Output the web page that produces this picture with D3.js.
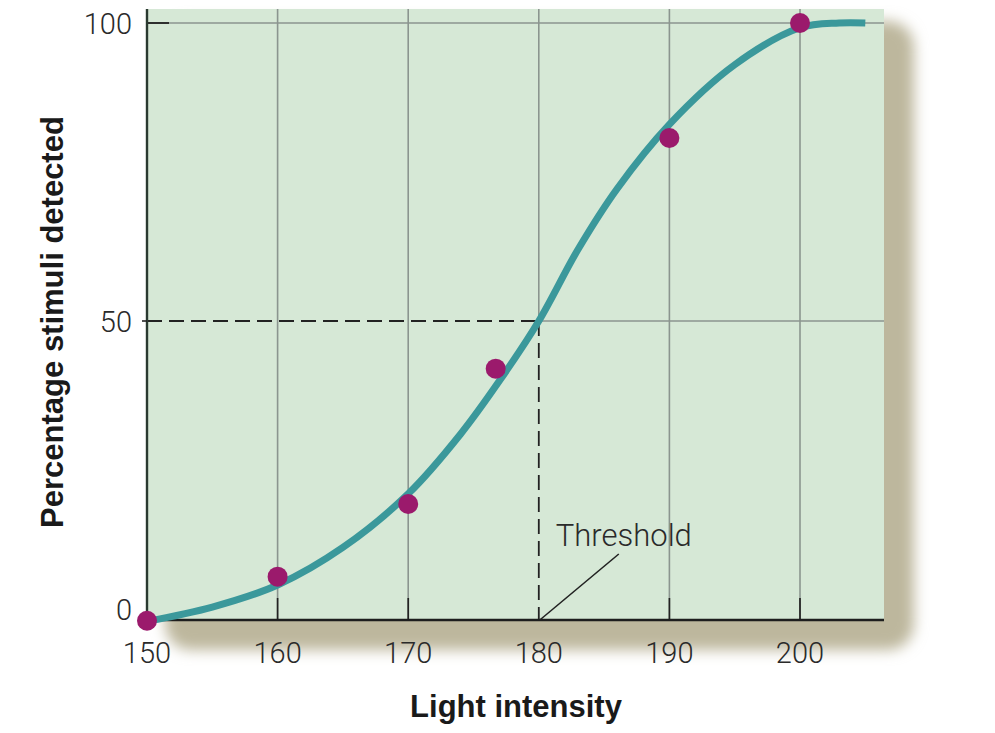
<!DOCTYPE html>
<html>
<head>
<meta charset="utf-8">
<script src="https://cdn.jsdelivr.net/npm/d3@7"></script>
<style>
  html, body { margin: 0; padding: 0; background: #ffffff; }
  svg { display: block; }
</style>
</head>
<body>
<script>
// ---- data ----
const curveX = [150, 155, 160, 165, 170, 174, 177, 180, 183, 186, 190, 195, 200, 203, 205];
const curveY = [-0.4, 2.0, 5.7, 12, 21, 31, 40, 50, 62, 72.2, 83, 93, 99.2, 100, 100];
const pointX = [150, 160, 170, 176.7, 190, 200];
const pointY = [-0.3, 7.1, 19.3, 42, 80.7, 100];
const xTicks = [150, 160, 170, 180, 190, 200];
const yTicks = [0, 50, 100];
const thresholdX = 180;
const thresholdY = 50;
const xTitle = "Light intensity";
const yTitle = "Percentage stimuli detected";
const annotation = "Threshold";

(function () {
const W = 995, H = 733;
const pL = 147, pR = 884, pB = 620, pT = 9;

const x = d3.scaleLinear().domain([150, 200]).range([147, 800]);
const y = d3.scaleLinear().domain([0, 100]).range([619, 23]);

const svg = d3.select("body").append("svg").attr("width", W).attr("height", H);

const defs = svg.append("defs");
const f = defs.append("filter").attr("id", "blur").attr("x", "-20%").attr("y", "-20%").attr("width", "140%").attr("height", "140%");
f.append("feGaussianBlur").attr("stdDeviation", 7);

// shadow
svg.append("rect")
  .attr("x", pL + 18).attr("y", pT + 12)
  .attr("width", pR - pL + 12).attr("height", pB - pT + 18)
  .attr("rx", 26)
  .attr("fill", "#bdb79d")
  .attr("filter", "url(#blur)");

// plot background
svg.append("rect")
  .attr("x", pL).attr("y", pT)
  .attr("width", pR - pL).attr("height", pB - pT)
  .attr("fill", "#d6e8d6");

const grid = svg.append("g");
const tickLen = 22;
xTicks.filter(d => d !== 150).forEach(d => {
  const X = x(d);
  if (d === thresholdX) {
    grid.append("line").attr("x1", X).attr("x2", X).attr("y1", pT).attr("y2", y(thresholdY))
      .attr("stroke", "#8b958f").attr("stroke-width", 1.6);
  } else {
    grid.append("line").attr("x1", X).attr("x2", X).attr("y1", pT).attr("y2", pB - tickLen)
      .attr("stroke", "#8b958f").attr("stroke-width", 1.6);
    grid.append("line").attr("x1", X).attr("x2", X).attr("y1", pB - tickLen).attr("y2", pB)
      .attr("stroke", "#222").attr("stroke-width", 1.8);
  }
});
yTicks.filter(d => d !== 0).forEach(d => {
  const Y = y(d);
  if (d === thresholdY) {
    grid.append("line").attr("x1", x(thresholdX)).attr("x2", pR).attr("y1", Y).attr("y2", Y)
      .attr("stroke", "#8b958f").attr("stroke-width", 1.6);
  } else {
    grid.append("line").attr("x1", pL).attr("x2", pR).attr("y1", Y).attr("y2", Y)
      .attr("stroke", "#8b958f").attr("stroke-width", 1.6);
    grid.append("line").attr("x1", pL).attr("x2", pL + tickLen).attr("y1", Y).attr("y2", Y)
      .attr("stroke", "#222").attr("stroke-width", 1.8);
  }
});

// dashed threshold lines
svg.append("line")
  .attr("x1", pL).attr("x2", x(thresholdX))
  .attr("y1", y(thresholdY)).attr("y2", y(thresholdY))
  .attr("stroke", "#222").attr("stroke-width", 1.8).attr("stroke-dasharray", "15,7");
svg.append("line")
  .attr("x1", x(thresholdX)).attr("x2", x(thresholdX))
  .attr("y1", y(thresholdY)).attr("y2", pB)
  .attr("stroke", "#222").attr("stroke-width", 1.8).attr("stroke-dasharray", "15,7");

// annotation leader + text
svg.append("line")
  .attr("x1", x(thresholdX) + 1).attr("y1", pB)
  .attr("x2", x(thresholdX) + 80).attr("y2", pB - 66)
  .attr("stroke", "#222").attr("stroke-width", 1.6);
svg.append("text")
  .attr("x", x(thresholdX) + 17).attr("y", 546)
  .attr("font-family", "Roboto, 'Liberation Sans', sans-serif")
  .attr("font-weight", 300)
  .attr("font-size", 31)
  .attr("fill", "#2a2a2a")
  .text(annotation);

// axes lines
svg.append("line").attr("x1", pL).attr("x2", pL).attr("y1", pT).attr("y2", pB)
  .attr("stroke", "#2a3a30").attr("stroke-width", 2.4);
svg.append("line").attr("x1", pL - 1).attr("x2", pR).attr("y1", pB).attr("y2", pB)
  .attr("stroke", "#1e1e1e").attr("stroke-width", 2.6);
svg.append("line").attr("x1", pL - 5).attr("x2", pL).attr("y1", y(50)).attr("y2", y(50))
  .attr("stroke", "#222").attr("stroke-width", 1.6);

// curve
const curveData = curveX.map((d, i) => [d, curveY[i]]);
const line = d3.line().x(d => x(d[0])).y(d => y(d[1])).curve(d3.curveCatmullRom.alpha(0.5));
svg.append("path")
  .attr("d", line(curveData))
  .attr("fill", "none")
  .attr("stroke", "#3b989b")
  .attr("stroke-width", 7);

// points
svg.append("g").selectAll("circle")
  .data(pointX.map((d, i) => [d, pointY[i]]))
  .join("circle")
  .attr("cx", d => x(d[0])).attr("cy", d => y(d[1]))
  .attr("r", 10)
  .attr("fill", "#9b1a6c");

// tick labels
const tickFont = "Roboto, 'Liberation Sans', sans-serif";
svg.append("g").selectAll("text")
  .data(xTicks).join("text")
  .attr("x", d => x(d)).attr("y", 663)
  .attr("text-anchor", "middle")
  .attr("font-family", tickFont).attr("font-weight", 300)
  .attr("font-size", 29).attr("fill", "#2a2a2a")
  .text(d => d);
svg.append("g").selectAll("text")
  .data(yTicks).join("text")
  .attr("x", 132).attr("y", d => d === 0 ? 620 : y(d) + 11)
  .attr("text-anchor", "end")
  .attr("font-family", tickFont).attr("font-weight", 300)
  .attr("font-size", 29).attr("fill", "#2a2a2a")
  .text(d => d);

// axis titles
svg.append("text")
  .attr("x", 516).attr("y", 717)
  .attr("text-anchor", "middle")
  .attr("font-family", "'Liberation Sans', Arial, sans-serif")
  .attr("font-weight", "bold").attr("font-size", 31).attr("fill", "#1a1a1a")
  .text(xTitle);
svg.append("text")
  .attr("transform", "translate(63,322) rotate(-90)")
  .attr("text-anchor", "middle")
  .attr("font-family", "'Liberation Sans', Arial, sans-serif")
  .attr("font-weight", "bold").attr("font-size", 31).attr("fill", "#1a1a1a")
  .text(yTitle);
})();
</script>
</body>
</html>
